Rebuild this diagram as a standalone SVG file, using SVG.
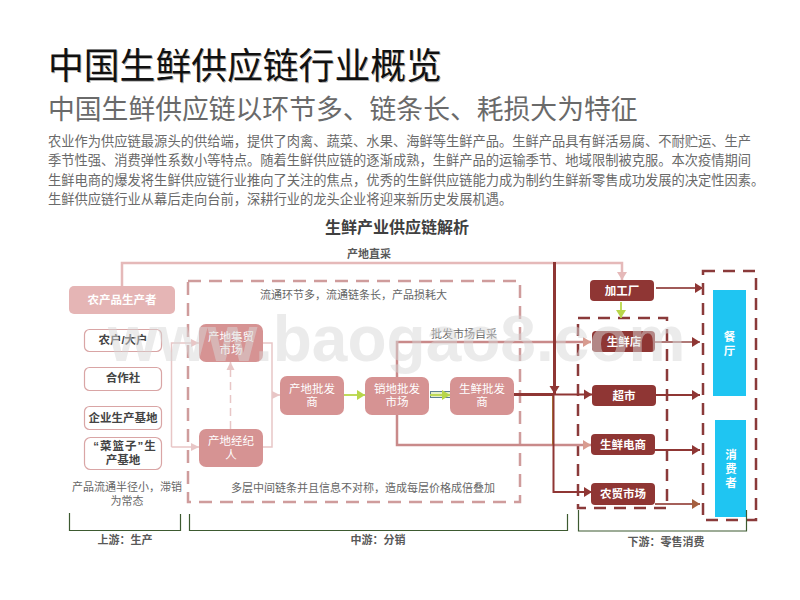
<svg xmlns="http://www.w3.org/2000/svg" width="800" height="600" viewBox="0 0 800 600">
<style>
text{font-family:"Liberation Sans","Noto Sans CJK SC",sans-serif;text-anchor:middle}
.l{text-anchor:start}
.body{font-size:13.27px;fill:#6a6a6a}
.note{font-size:11px;fill:#666}
.lab{font-size:11px;fill:#595959;font-weight:bold}
.w{fill:#fff;font-size:11.5px}
.wb{fill:#fff;font-size:11.5px;font-weight:bold}
.k{fill:#444;font-size:11.5px;font-weight:bold}
.pk{fill:#e5b5b5}
.mid{fill:#d69393}
.dk{fill:#8f3634}
.blue{fill:#1fc5f2}
.out{fill:#fff;stroke:#d9a5a5;stroke-width:1.2}
.c{fill:none;stroke-linejoin:miter}
.p1{stroke:#e8c6c6;stroke-width:1.5}
.p2{stroke:#e5b9b9;stroke-width:2.5}
.p3{stroke:#c98a8a;stroke-width:2.5}
.d1{stroke:#8f3634;stroke-width:2}
.d3{stroke:#8f3634;stroke-width:3}
.g{stroke:#b8d64a;stroke-width:1.8}
.dash1{fill:none;stroke:#cf9c9c;stroke-width:2.5;stroke-dasharray:13 8}
.dash2{fill:none;stroke:#8a3a3a;stroke-width:2.5;stroke-dasharray:12 8}
.br{fill:none;stroke:#3d5a30;stroke-width:1.2}
</style>
<defs>
<marker id="ap" markerUnits="userSpaceOnUse" markerWidth="10" markerHeight="10" refX="8" refY="5" orient="auto"><path d="M0 1L8 5L0 9z" fill="#e8c6c6"/></marker>
<marker id="apd" markerUnits="userSpaceOnUse" markerWidth="10" markerHeight="12" refX="8" refY="6" orient="auto"><path d="M0 1L8 6L0 11z" fill="#e5b9b9"/></marker>
<marker id="am" markerUnits="userSpaceOnUse" markerWidth="10" markerHeight="12" refX="8" refY="6" orient="auto"><path d="M0 1L8 6L0 11z" fill="#d89c90"/></marker>
<marker id="ad" markerUnits="userSpaceOnUse" markerWidth="10" markerHeight="12" refX="8" refY="6" orient="auto"><path d="M0 1L8 6L0 11z" fill="#8f3634"/></marker>
<marker id="adb" markerUnits="userSpaceOnUse" markerWidth="10" markerHeight="12" refX="8" refY="6" orient="auto"><path d="M0 1L8 6L0 11z" fill="#a5603f"/></marker>
<marker id="ag" markerUnits="userSpaceOnUse" markerWidth="10" markerHeight="12" refX="8" refY="6" orient="auto"><path d="M0 1L8 6L0 11z" fill="#b8d64a"/></marker>
<filter id="sh" x="-5%" y="-20%" width="110%" height="140%"><feGaussianBlur stdDeviation="0.7"/></filter>
</defs>
<rect width="800" height="600" fill="#fff"/>

<g id="header">
<text class="l" x="49" y="80" font-size="35.800" fill="#b5b5b5" filter="url(#sh)">中国生鲜供应链行业概览</text>
<text class="l" x="48" y="79" font-size="35.800" fill="#111">中国生鲜供应链行业概览</text>
<text class="l" x="48" y="119" font-size="26.800" fill="#6a6a6a">中国生鲜供应链以环节多、链条长、耗损大为特征</text>
<text class="l body" x="48" y="146">农业作为供应链最源头的供给端，提供了肉禽、蔬菜、水果、海鲜等生鲜产品。生鲜产品具有鲜活易腐、不耐贮运、生产</text>
<text class="l body" x="48" y="165">季节性强、消费弹性系数小等特点。随着生鲜供应链的逐渐成熟，生鲜产品的运输季节、地域限制被克服。本次疫情期间</text>
<text class="l body" x="48" y="185">生鲜电商的爆发将生鲜供应链行业推向了关注的焦点，优秀的生鲜供应链能力成为制约生鲜新零售成功发展的决定性因素。</text>
<text class="l body" x="48" y="204">生鲜供应链行业从幕后走向台前，深耕行业的龙头企业将迎来新历史发展机遇。</text>
<text x="397" y="233" font-size="16" font-weight="bold" fill="#404040">生鲜产业供应链解析</text>
</g>

<g id="frames">
<rect class="dash1" x="188" y="281" width="332" height="221"/>
<rect class="dash2" x="578" y="318" width="89" height="190"/>
<rect class="dash2" x="703" y="271" width="53" height="249"/>
</g>

<g id="connectors">
<path class="c p2" d="M122 287V263H622V280" marker-end="url(#apd)"/>
<path class="c p1" d="M171.500 447V343H199" marker-end="url(#ap)"/>
<path class="c p1" d="M171.500 447H199" marker-end="url(#ap)"/>
<path class="c p1" d="M230.500 429V362" stroke-dasharray="8 5" marker-end="url(#ap)"/>
<path class="c p1" d="M263 343H272V447H263"/>
<path class="c p1" d="M272 395H280" marker-end="url(#ap)"/>
<path class="c g" d="M344 395H365" marker-end="url(#ag)"/>
<rect x="430.500" y="391.500" width="21" height="6" fill="#e4efc8" stroke="#5d7f93" stroke-width="1"/>
<path class="c g" d="M430 395H450" marker-end="url(#ag)"/>
<path class="c p3" d="M397 377V342H591" marker-end="url(#am)"/>
<path class="c p3" d="M397 415V445H591" marker-end="url(#am)"/>
<path class="c d3" d="M514 394.500H553"/>
<path class="c d1" d="M553 394.500H592" marker-end="url(#ad)"/>
<path class="c d3" d="M554.500 262V394" marker-end="url(#ad)"/>
<path class="c" d="M552.500 396V445" stroke="#b59a30" stroke-width="1"/>
<path class="c d1" d="M553.500 395V492H592" marker-end="url(#ad)"/>
<path class="c" d="M656 288H703" stroke="#a05a58" stroke-width="2" marker-end="url(#ad)"/>
<path class="c" d="M655 342H700" stroke="#b07a78" stroke-width="2" marker-end="url(#ad)"/>
<path class="c d1" d="M656 395H700" marker-end="url(#ad)"/>
<path class="c d1" d="M655 450H700" marker-end="url(#ad)"/>
<path class="c" d="M655 504H700" stroke="#a5605a" stroke-width="2" marker-end="url(#adb)"/>
<path class="c g" d="M621 302V318" marker-end="url(#ag)"/>
</g>

<g id="labels">
<text class="lab" x="369" y="258">产地直采</text>
<text class="note" x="353.500" y="299">流通环节多，流通链条长，产品损耗大</text>
<text class="note" x="464" y="338">批发市场自采</text>
<text class="note" x="127" y="491">产品流通半径小，滞销</text>
<text class="note" x="127" y="505">为常态</text>
<text class="note" x="363" y="492">多层中间链条并且信息不对称，造成每层价格成倍叠加</text>
</g>

<g id="n-producer"><rect class="pk" x="69" y="286" width="106" height="28" rx="5"/><text class="wb" x="122" y="304">农产品生产者</text></g>
<g id="n-farmer"><rect class="out" x="84.500" y="329.500" width="77" height="22" rx="5"/><text class="k" x="123" y="344">农户/大户</text></g>
<g id="n-coop"><rect class="out" x="84.500" y="367.500" width="77" height="23" rx="5"/><text class="k" x="123" y="382">合作社</text></g>
<g id="n-base"><rect class="out" x="84.500" y="406.500" width="77" height="23" rx="5"/><text class="k" x="123" y="422">企业生产基地</text></g>
<g id="n-basket"><rect class="out" x="84.500" y="437.500" width="77" height="32" rx="6"/><text class="k" x="125" y="450" letter-spacing="1">“菜篮子”生</text><text class="k" x="123" y="464">产基地</text></g>

<g id="n-collect"><rect class="mid" x="199" y="324" width="64" height="38" rx="7"/><text class="w" x="231" y="341">产地集贸</text><text class="w" x="231" y="354">市场</text></g>
<g id="n-broker"><rect class="mid" x="199" y="429" width="64" height="38" rx="7"/><text class="w" x="231" y="445">产地经纪</text><text class="w" x="231" y="459">人</text></g>
<g id="n-origin"><rect class="mid" x="280" y="376" width="64" height="39" rx="7"/><text class="w" x="312" y="393">产地批发</text><text class="w" x="312" y="406">商</text></g>
<g id="n-sales"><rect class="mid" x="365" y="377" width="64" height="38" rx="7"/><text class="w" x="397" y="393">销地批发</text><text class="w" x="397" y="406">市场</text></g>
<g id="n-fresh"><rect class="mid" x="450" y="377" width="64" height="38" rx="7"/><text class="w" x="482" y="393">生鲜批发</text><text class="w" x="482" y="406">商</text></g>

<g id="n-factory"><rect class="dk" x="590" y="280" width="64" height="21" rx="4"/><text class="wb" x="622" y="295">加工厂</text></g>
<g id="n-shop"><rect class="dk" x="592" y="331" width="63" height="21" rx="4"/><text class="wb" x="624" y="346">生鲜店</text></g>
<g id="n-super"><rect class="dk" x="592" y="385" width="64" height="21" rx="4"/><text class="wb" x="624" y="400">超市</text></g>
<g id="n-ecom"><rect class="dk" x="591" y="434" width="64" height="21" rx="4"/><text class="wb" x="623" y="449">生鲜电商</text></g>
<g id="n-market"><rect class="dk" x="591" y="483" width="64" height="22" rx="4"/><text class="wb" x="623" y="498">农贸市场</text></g>

<g id="n-restaurant"><rect class="blue" x="713" y="290" width="33" height="106"/><text class="wb" x="729.500" y="341">餐</text><text class="wb" x="729.500" y="355">厅</text></g>
<g id="n-consumer"><rect class="blue" x="715" y="420" width="31" height="97"/><text class="wb" x="731" y="459">消</text><text class="wb" x="731" y="473">费</text><text class="wb" x="731" y="487">者</text></g>

<g id="stages">
<path class="br" d="M69.500 513V530.500H180.500V514"/>
<path class="br" d="M189.500 514V530.500H567.500V514"/>
<path class="br" d="M578.500 510V531H746.500V510"/>
<text class="lab" x="125" y="544">上游：生产</text>
<text class="lab" x="378" y="544">中游：分销</text>
<text class="lab" x="666" y="546">下游：零售消费</text>
</g>

<text id="watermark" x="108" y="361" font-size="64" font-weight="bold" fill="#d8d8d8" opacity="0.5" style="text-anchor:start">www.baogao8.com</text>
</svg>
